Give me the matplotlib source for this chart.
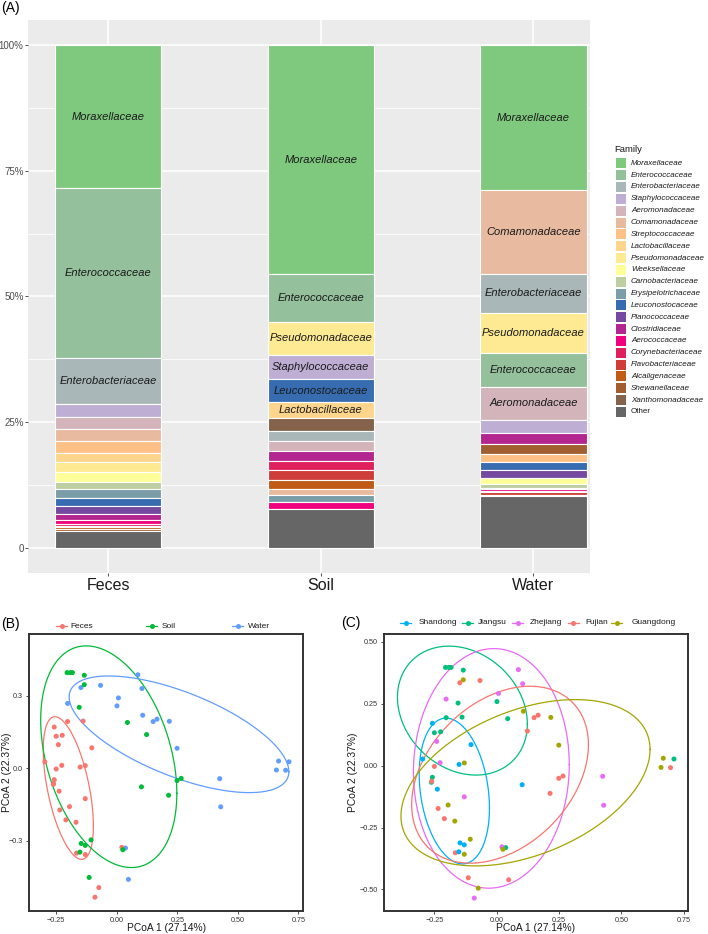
import numpy as np
import matplotlib
matplotlib.use("Agg")
import matplotlib.pyplot as plt
from matplotlib.patches import Rectangle
from matplotlib.lines import Line2D

plt.rcParams['font.family'] = ['Liberation Sans', 'DejaVu Sans']

# ---------------- data ----------------
families = ["Moraxellaceae", "Enterococcaceae", "Enterobacteriaceae", "Staphylococcaceae",
            "Aeromonadaceae", "Comamonadaceae", "Streptococcaceae", "Lactobacillaceae",
            "Pseudomonadaceae", "Weeksellaceae", "Carnobacteriaceae", "Erysipelotrichaceae",
            "Leuconostocaceae", "Planococcaceae", "Clostridiaceae", "Aerococcaceae",
            "Corynebacteriaceae", "Flavobacteriaceae", "Alcaligenaceae", "Shewanellaceae",
            "Xanthomonadaceae", "Other"]

samples = ["Feces", "Soil", "Water"]

# stacking order (top -> bottom) and relative abundance (%)
feces_families = ["Moraxellaceae", "Enterococcaceae", "Enterobacteriaceae", "Staphylococcaceae",
                  "Aeromonadaceae", "Comamonadaceae", "Streptococcaceae", "Lactobacillaceae",
                  "Pseudomonadaceae", "Weeksellaceae", "Carnobacteriaceae", "Erysipelotrichaceae",
                  "Leuconostocaceae", "Planococcaceae", "Clostridiaceae", "Aerococcaceae",
                  "Corynebacteriaceae", "Flavobacteriaceae", "Alcaligenaceae", "Shewanellaceae",
                  "Other"]
feces_values = [28.4, 33.8, 9.1, 2.64, 2.39, 2.47, 2.31, 1.83, 1.89, 1.93, 1.51, 1.67,
                1.59, 1.65, 1.29, 0.66, 0.40, 0.36, 0.34, 0.40, 3.32]

soil_families = ["Moraxellaceae", "Enterococcaceae", "Pseudomonadaceae", "Staphylococcaceae",
                 "Leuconostocaceae", "Lactobacillaceae", "Xanthomonadaceae", "Enterobacteriaceae",
                 "Aeromonadaceae", "Clostridiaceae", "Corynebacteriaceae", "Flavobacteriaceae",
                 "Alcaligenaceae", "Comamonadaceae", "Erysipelotrichaceae", "Aerococcaceae",
                 "Other"]
soil_values = [45.7, 9.5, 6.6, 4.9, 4.5, 3.2, 2.6, 1.9, 2.0, 2.0, 1.9, 1.9, 1.9, 1.2, 1.3, 1.5, 7.7]

water_families = ["Moraxellaceae", "Comamonadaceae", "Enterobacteriaceae", "Pseudomonadaceae",
                  "Enterococcaceae", "Aeromonadaceae", "Staphylococcaceae", "Clostridiaceae",
                  "Shewanellaceae", "Streptococcaceae", "Leuconostocaceae", "Planococcaceae",
                  "Weeksellaceae", "Carnobacteriaceae", "Erysipelotrichaceae", "Aerococcaceae",
                  "Corynebacteriaceae", "Flavobacteriaceae", "Alcaligenaceae", "Other"]
water_values = [28.8, 16.6, 7.85, 7.85, 6.76, 6.66, 2.58, 2.19, 2.03, 1.59, 1.59, 1.45,
                1.19, 0.80, 0.30, 0.30, 0.34, 0.40, 0.36, 10.24]

y_ticks = [0, 0.25, 0.5, 0.75, 1.0]
y_tick_labels = ["0", "25%", "50%", "75%", "100%"]

# PCoA coordinates
pcoa1 = [-0.205, -0.192, -0.183, -0.134, -0.155, -0.139, -0.203, -0.225, -0.250, 0.001, 0.044,
         -0.258, -0.262, 0.036, 0.711,
         0.087, 0.104, 0.007, -0.203, -0.241, -0.227, -0.130, 0.021, -0.090, 0.425, 0.429,
         -0.148, -0.067, 0.150, 0.166, 0.123, -0.250, -0.261, -0.235, -0.210, -0.166,
         -0.114, 0.048, 0.214, 0.249, 0.266, 0.697,
         -0.258, -0.297, -0.151, -0.103, -0.238, -0.147, -0.130, -0.152, 0.102,
         -0.134, 0.107, 0.217, 0.249, -0.130, -0.195, -0.168, -0.106, -0.130, 0.025,
         -0.074, 0.668, 0.659]
pcoa2 = [0.397, 0.397, 0.397, 0.386, 0.253, 0.196, 0.194, 0.137, 0.133, 0.259, 0.190,
         -0.047, -0.067, -0.331, 0.027,
         0.388, 0.331, 0.292, 0.269, 0.098, 0.012, -0.126, -0.328, -0.535, -0.043, -0.160,
         0.335, 0.344, 0.194, 0.204, 0.140, -0.003, -0.063, -0.173, -0.214, -0.352,
         -0.453, -0.461, -0.112, -0.051, -0.042, -0.008,
         0.171, 0.027, 0.005, 0.085, -0.095, -0.312, -0.320, -0.348, -0.077,
         0.347, 0.220, 0.195, 0.083, 0.011, -0.159, -0.224, -0.297, -0.358, -0.338,
         -0.495, 0.030, -0.007]
sample_type = (["Soil", "Soil", "Soil", "Soil", "Soil", "Feces", "Feces", "Feces", "Feces", "Water",
                "Soil", "Feces", "Feces", "Water", "Water"] +
               ["Water", "Water", "Water", "Water", "Feces", "Feces", "Feces", "Feces", "Feces",
                "Water", "Water"] +
               ["Water", "Water", "Water", "Water", "Soil", "Feces", "Feces", "Feces", "Feces",
                "Feces", "Soil", "Water", "Soil", "Soil", "Soil", "Water"] +
               ["Feces", "Feces", "Feces", "Feces", "Feces", "Soil", "Soil", "Soil", "Soil"] +
               ["Soil", "Water", "Water", "Water", "Feces", "Feces", "Feces", "Soil", "Feces",
                "Soil", "Feces", "Water", "Water"])
province = (["Jiangsu"] * 15 + ["Zhejiang"] * 11 + ["Fujian"] * 16 +
            ["Shandong"] * 9 + ["Guangdong"] * 13)

type_levels = ["Feces", "Soil", "Water"]
type_colors = ["#F8766D", "#00BA38", "#619CFF"]
prov_levels = ["Shandong", "Jiangsu", "Zhejiang", "Fujian", "Guangdong"]
prov_colors = ["#00B0F6", "#00BF7D", "#E76BF3", "#F8766D", "#A3A500"]

# group ellipses: centre, half extent in x / y,
# x offset of the topmost point from the centre (gives the tilt)
B_ell_cx = [-0.200, -0.033, 0.257]
B_ell_cy = [-0.082, 0.048, 0.141]
B_ell_hx = [0.1035, 0.281, 0.4535]
B_ell_hy = [0.296, 0.460, 0.242]
B_ell_topdx = [-0.055, -0.093, -0.29]

C_ell_cx = [-0.170, -0.1375, -0.0215, 0.0135, 0.1155]
C_ell_cy = [-0.1025, 0.2225, -0.011, -0.0365, -0.069]
C_ell_hx = [0.141, 0.2605, 0.3125, 0.3545, 0.4995]
C_ell_hy = [0.2945, 0.2605, 0.484, 0.3575, 0.336]
C_ell_topdx = [-0.033, -0.054, 0.010, 0.120, 0.200]

# ---------------- helpers ----------------
W, H = 708, 934
fig = plt.figure(figsize=(W / 100, H / 100), dpi=100)


def add_ax(l, t, r, b):
    return fig.add_axes([l / W, 1 - b / H, (r - l) / W, (b - t) / H])


def fx(x):
    return x / W


def fy(y):
    return 1 - y / H


# Accent palette ramped to 22 colours (like colorRampPalette)
accent = ["#7FC97F", "#BEAED4", "#FDC086", "#FFFF99", "#386CB0", "#F0027F", "#BF5B17", "#666666"]
acc_rgb = np.array([matplotlib.colors.to_rgb(c) for c in accent])
pos = np.linspace(0, 1, len(accent))
t = np.linspace(0, 1, len(families))
fam_rgb = np.column_stack([np.interp(t, pos, acc_rgb[:, k]) for k in range(3)])
fam_color = {f: tuple(fam_rgb[i]) for i, f in enumerate(families)}

# ---------------- panel A ----------------
axA = add_ax(28.5, 20, 590, 573)
axA.set_facecolor("#EBEBEB")
axA.set_xlim(0.625, 3.266)
axA.set_ylim(-0.05, 1.05)
for s in axA.spines.values():
    s.set_visible(False)
axA.set_axisbelow(True)
axA.set_yticks(y_ticks)
axA.set_yticklabels(y_tick_labels)
axA.set_yticks([0.125, 0.375, 0.625, 0.875], minor=True)
axA.set_xticks([1, 2, 3])
axA.set_xticklabels(samples)
axA.grid(which="major", color="white", lw=1.1)
axA.grid(which="minor", axis="y", color="white", lw=0.55)
axA.tick_params(axis="y", which="major", length=2.5, width=0.6, color="#333333",
                labelsize=7, labelcolor="#4D4D4D", pad=1)
axA.tick_params(axis="x", which="major", length=2.5, width=0.6, color="#333333",
                labelsize=11.5, labelcolor="#1A1A1A", pad=0.8)
axA.tick_params(which="minor", length=0)

bars = [(feces_families, feces_values), (soil_families, soil_values), (water_families, water_values)]
for i, (fams, vals) in enumerate(bars):
    v = np.array(vals, float)
    v = v / v.sum()
    top = 1.0
    for f, val, raw in zip(fams, v, vals):
        bottom = top - val
        axA.bar(i + 1, val, bottom=bottom, width=0.5, color=fam_color[f],
                edgecolor="white", linewidth=0.8)
        if raw >= 3 and f != "Other":
            axA.text(i + 1, bottom + val / 2, f, ha="center", va="center",
                     fontsize=8, style="italic", color="#1A1A1A")
        top = bottom

# legend for A
fig.text(fx(614), fy(150), "Family", fontsize=6.8, ha="left", va="center", color="#1A1A1A")
for i, f in enumerate(families):
    yc = 163.3 + i * 11.84
    fig.add_artist(Rectangle((fx(616), fy(yc + 5)), 9.5 / W, 10 / H, transform=fig.transFigure,
                             facecolor=fam_color[f], edgecolor="none"))
    fig.text(fx(631), fy(yc), f, fontsize=5.8, style="italic" if f != "Other" else "normal",
             ha="left", va="center", color="#1A1A1A")

fig.text(fx(1), fy(8), "(A)", fontsize=10, ha="left", va="center")


# ---------------- ellipses ----------------
def ellipse_pts(cx, cy, hx, hy, topdx, segments=200):
    S = np.array([[hx ** 2, topdx * hy], [topdx * hy, hy ** 2]])
    L = np.linalg.cholesky(S)
    ang = np.linspace(0, 2 * np.pi, segments + 1)
    circ = np.column_stack([np.cos(ang), np.sin(ang)])
    return np.array([cx, cy]) + circ @ L.T


px = np.array(pcoa1)
py = np.array(pcoa2)


def pcoa_panel(ax, groups, levels, colors, ell, xlim, ylim, yticks, ylabels, ylab_x):
    groups = np.array(groups)
    for k, col in enumerate(colors):
        e = ellipse_pts(*[a[k] for a in ell])
        ax.plot(e[:, 0], e[:, 1], color=col, lw=0.9, zorder=2)
    for xx, yy, g in zip(px, py, groups):
        ax.scatter(xx, yy, s=13, color=colors[levels.index(g)], edgecolors="none", zorder=3)
    ax.set_xlim(*xlim)
    ax.set_ylim(*ylim)
    ax.set_xticks([-0.25, 0, 0.25, 0.5, 0.75])
    ax.set_xticklabels(["\u22120.25", "0.00", "0.25", "0.50", "0.75"])
    ax.set_yticks(yticks)
    ax.set_yticklabels(ylabels)
    for s in ax.spines.values():
        s.set_color("#333333")
        s.set_linewidth(1.4)
    ax.tick_params(length=2.5, width=0.6, color="#333333", labelsize=5.2,
                   labelcolor="#333333", pad=2)
    ax.set_xlabel("PCoA 1 (27.14%)", fontsize=7.4, color="#1A1A1A", va="center")
    ax.set_ylabel("PCoA 2 (22.37%)", fontsize=7.4, color="#1A1A1A", va="center")
    ax.xaxis.set_label_coords(0.5, -0.063)
    ax.yaxis.set_label_coords(ylab_x, 0.5)


axB = add_ax(29.3, 634.3, 303.3, 910.7)
pcoa_panel(axB, sample_type, type_levels, type_colors,
           (B_ell_cx, B_ell_cy, B_ell_hx, B_ell_hy, B_ell_topdx),
           (-0.361, 0.77), (-0.591, 0.556),
           [-0.3, 0, 0.3], ["\u22120.3", "0.0", "0.3"], -0.082)
axC = add_ax(384, 634, 687.7, 910.7)
pcoa_panel(axC, province, prov_levels, prov_colors,
           (C_ell_cx, C_ell_cy, C_ell_hx, C_ell_hy, C_ell_topdx),
           (-0.452, 0.766), (-0.586, 0.532),
           [-0.5, -0.25, 0, 0.25, 0.5], ["\u22120.50", "\u22120.25", "0.00", "0.25", "0.50"], -0.102)


def legend_row(y, keys, texts, labels, colors):
    for kx, tx, lab, col in zip(keys, texts, labels, colors):
        fig.add_artist(Line2D([fx(kx - 5.5), fx(kx + 5.5)], [fy(y), fy(y)], color=col, lw=0.9,
                              transform=fig.transFigure))
        fig.add_artist(Line2D([fx(kx)], [fy(y)], marker="o", markersize=3.6, color=col,
                              markeredgewidth=0, transform=fig.transFigure))
        fig.text(fx(tx), fy(y), lab, fontsize=6, ha="left", va="center", color="#1A1A1A")


legend_row(626, [61.7, 151.7, 237.7], [70.7, 161.7, 248.3], type_levels, type_colors)
legend_row(622.7, [405.8, 467.5, 517.5, 573.3, 616.7], [418.3, 478.3, 530, 585.7, 631.7],
           prov_levels, prov_colors)

fig.text(fx(1), fy(624), "(B)", fontsize=10, ha="left", va="center")
fig.text(fx(341), fy(623), "(C)", fontsize=10, ha="left", va="center")

fig.savefig("out.png", dpi=100)
